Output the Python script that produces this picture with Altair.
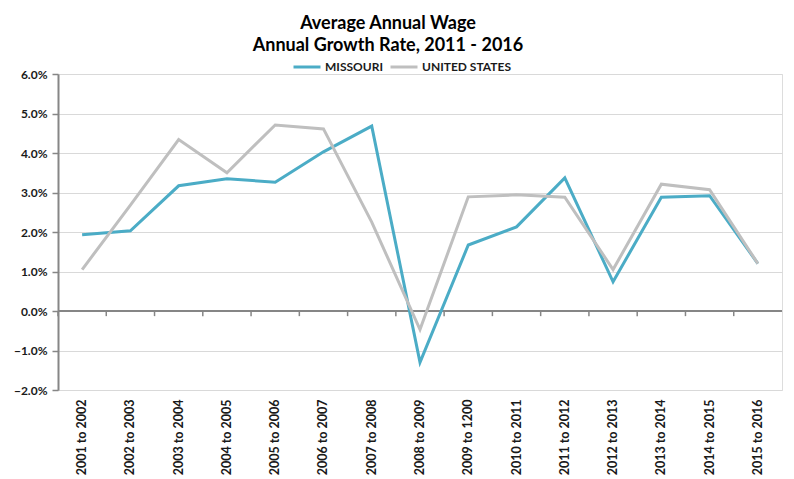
import altair as alt
import pandas as pd

periods = ["2001 to 2002", "2002 to 2003", "2003 to 2004", "2004 to 2005",
           "2005 to 2006", "2006 to 2007", "2007 to 2008", "2008 to 2009",
           "2009 to 1200", "2010 to 2011", "2011 to 2012", "2012 to 2013",
           "2013 to 2014", "2014 to 2015", "2015 to 2016"]
missouri = [1.93, 2.03, 3.17, 3.35, 3.26, 4.03, 4.68, -1.30, 1.67, 2.13,
            3.37, 0.74, 2.88, 2.92, 1.20]
united_states = [1.05, 2.68, 4.34, 3.50, 4.71, 4.61, 2.25, -0.47, 2.89, 2.94,
                 2.88, 1.05, 3.21, 3.07, 1.20]
series_names = ["MISSOURI", "UNITED STATES"]
series_colors = ["#4BACC6", "#BFBFBF"]
y_ticks = [-2, -1, 0, 1, 2, 3, 4, 5, 6]

rows = []
for k, (name, vals) in enumerate(zip(series_names, [missouri, united_states])):
    for p, v in zip(periods, vals):
        rows.append({"period": p, "series": name, "value": v, "ord": k})
df = pd.DataFrame(rows)
ticks_df = pd.DataFrame({"period": periods})

FONT = "Lato, 'Open Sans', sans-serif"
AXIS_GRAY = "#868686"

xscale = alt.Scale(type="band", domain=periods, paddingInner=0, paddingOuter=0)
yscale = alt.Scale(domain=[-2, 6], nice=False, zero=False)
yaxis = alt.Axis(title=None, values=y_ticks, tickCount=20, labelOverlap=False,
                 labelExpr="format(datum.value, '.1f') + '%'",
                 grid=True, gridColor="#D9D9D9", gridWidth=1,
                 domainColor=AXIS_GRAY, domainWidth=2,
                 tickColor=AXIS_GRAY, tickSize=6, tickWidth=1.5,
                 labelPadding=5, labelFont=FONT, labelFontSize=12,
                 labelFontWeight="bold", labelColor="#1a1a1a")
xaxis = alt.Axis(title=None, labelAngle=-90, ticks=False, domain=False,
                 labelPadding=9, labelFont=FONT, labelFontSize=12.5,
                 labelFontWeight="bold", labelColor="#1a1a1a")

lines = alt.Chart(df).mark_line(strokeWidth=3).encode(
    x=alt.X("period:N", sort=periods, scale=xscale, bandPosition=0.5, axis=xaxis),
    y=alt.Y("value:Q", scale=yscale, axis=yaxis),
    color=alt.Color("series:N",
                    scale=alt.Scale(domain=series_names, range=series_colors),
                    legend=alt.Legend(title=None, orient="none", direction="horizontal",
                                      legendX=234, legendY=-22,
                                      symbolType="stroke", symbolSize=729,
                                      symbolStrokeWidth=3, labelOffset=3,
                                      columnPadding=1, labelFont=FONT,
                                      labelFontSize=12, labelFontWeight="bold",
                                      labelColor="#1a1a1a")),
    order=alt.Order("ord:Q"),
)

zero_rule = alt.Chart(ticks_df).mark_rule(color=AXIS_GRAY, strokeWidth=2.2).encode(
    y=alt.YDatum(0, scale=yscale, axis=yaxis)
)

zero_ticks = alt.Chart(ticks_df).mark_rule(color=AXIS_GRAY, strokeWidth=1.5).encode(
    x=alt.X("period:N", sort=periods, scale=xscale, bandPosition=0, axis=xaxis),
    y=alt.YDatum(0, scale=yscale, axis=yaxis),
    y2=alt.datum(-0.13),
)

chart = alt.layer(zero_rule, zero_ticks, lines).properties(
    width=724,
    height=316,
    padding={"left": 5, "top": 7, "right": 0, "bottom": 0},
    title=alt.Title(["Average Annual Wage", "Annual Growth Rate, 2011 - 2016"],
                    font=FONT, fontSize=18, fontWeight="bold", color="#000000",
                    anchor="middle", lineHeight=22, offset=-3, dx=-32),
).configure_view(stroke=None).configure(background="white")

chart.save("out.html", embed_options={"renderer": "svg", "actions": False})
